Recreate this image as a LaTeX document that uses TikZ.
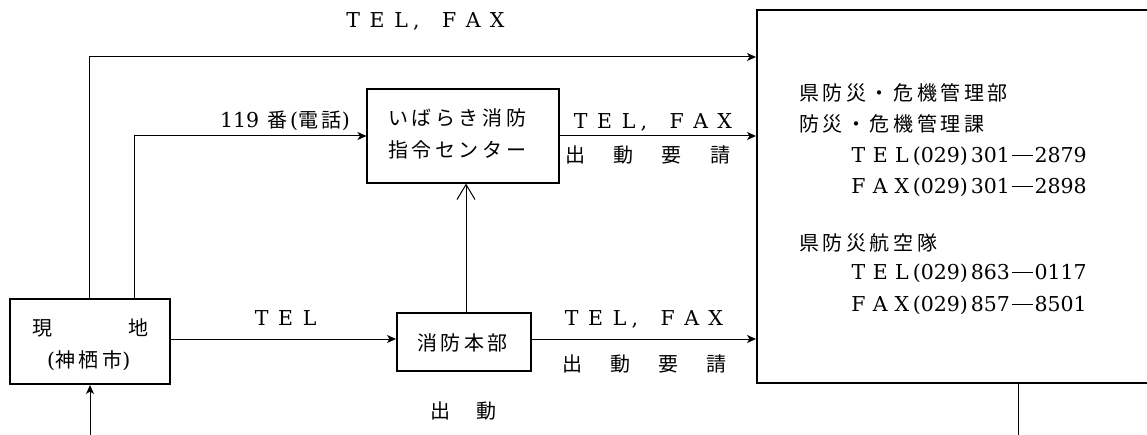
\documentclass[tikz,border=0pt]{standalone}
\usepackage{fontspec}
\newfontfamily\jpf[LetterSpace=18]{Noto Sans CJK JP}
\newfontfamily\latf{DejaVu Serif}
\usetikzlibrary{arrows.meta}
\newcommand\J[1]{{\fontsize{20pt}{24pt}\jpf #1}}
\newcommand\fwc[2][24pt]{\makebox[#1]{#2}}
\newcommand\fwl[2][24pt]{\makebox[#1][l]{#2}}
\newcommand\telfax{\fwc{T}\fwc{E}\fwc{L}\fwl{,}\fwc{F}\fwc{A}\fwc{X}}
\newcommand\dashrule{\hspace{2pt}\rule[6.8pt]{21pt}{1.1pt}\hspace{1.5pt}}
\newcommand\tcell[1]{\fwc[21.7pt]{#1}}
\begin{document}
\begin{tikzpicture}[x=1pt,y=-1pt,
  txt/.style={inner sep=0pt, anchor=base west, font=\fontsize{20.5pt}{24pt}\latf},
  arr/.style={line width=1pt, -{Stealth[length=9pt,width=8pt,inset=2.5pt]}},
  openarr/.style={line width=1pt, -{Straight Barb[length=15pt,width=18pt]}},
  ln/.style={line width=1pt},
  thickbox/.style={draw, line width=2pt, inner sep=0pt},
  thinbox/.style={draw, line width=1.1pt, inner sep=0pt}]
\useasboundingbox (0,0) rectangle (1147,435);
\clip (0,0) rectangle (1147,435);
% boxes
\node[thickbox, minimum width=160pt, minimum height=85pt] (genchi) at (90,341.5) {};
\node[thickbox, minimum width=134pt, minimum height=58pt] (honbu) at (464,342) {};
\node[thinbox, minimum width=192pt, minimum height=94pt] (center) at (463,136) {};
\node[thickbox, minimum width=410pt, minimum height=373pt] (ken) at (962,196.5) {};
% texts
\node[txt] (t1) at (341,27.6) {\telfax};
\node[txt, anchor=base east] (t119) at (350,127.6) {119\hspace{8pt}\J{番}\hspace{3pt}(\J{電話})};
\node[txt] (c1) at (388,125.6) {\J{いばらき消防}};
\node[txt] (c2) at (388,157.6) {\J{指令センター}};
\node[txt] (t2) at (568.5,128.6) {\telfax};
\node[txt] (r2) at (565,162.6) {\J{\fwl[48.3pt]{出}\fwl[48.3pt]{動}\fwl[48.3pt]{要}請}};
\node[txt] (t3) at (559.5,325.6) {\telfax};
\node[txt] (r3) at (562,371.6) {\J{\fwl[48pt]{出}\fwl[48pt]{動}\fwl[48pt]{要}請}};
\node[txt] (t4) at (249.5,325) {\fwc{T}\fwc{E}\fwc{L}};
\node[txt] (s1) at (430,418.6) {\J{\fwl[46pt]{出}動}};
\node[txt] (g1) at (32,335.6) {\J{\fwl[96pt]{現}地}};
\node[txt] (g2) at (47,367.6) {(\J{神栖市})};
\node[txt] (h1) at (417,350.6) {\J{消防本部}};
\node[txt] (k1) at (799,100.6) {\J{県防災・危機管理部}};
\node[txt] (k2) at (799,131.6) {\J{防災・危機管理課}};
\node[txt] (k3) at (847.5,162.6) {\tcell{T}\tcell{E}\tcell{L}(029)\hspace{3pt}301\dashrule 2879};
\node[txt] (k4) at (847.5,193.6) {\tcell{F}\tcell{A}\tcell{X}(029)\hspace{3pt}301\dashrule 2898};
\node[txt] (k5) at (799,250.6) {\J{県防災航空隊}};
\node[txt] (k6) at (847.5,279.6) {\tcell{T}\tcell{E}\tcell{L}(029)\hspace{3pt}863\dashrule 0117};
\node[txt] (k7) at (847.5,311.6) {\tcell{F}\tcell{A}\tcell{X}(029)\hspace{3pt}857\dashrule 8501};
% connectors
\draw[arr] (genchi.east |- 0,339) -- (honbu.west |- 0,339);
\draw[arr] (honbu.east |- 0,339) -- (ken.west |- 0,339);
\draw[arr] (center.east) -- (ken.west |- center.east);
\draw[openarr] (honbu.north -| 466,0) -- (center.south -| 466,0);
\draw[arr] (genchi.north -| 134,0) |- (center.west);
\draw[arr] (genchi.north -| 89,0) |- (ken.west |- 0,57);
\coordinate (gb) at (90,435);
\draw[arr] (gb) -- (genchi.south);
\coordinate (kb) at (1018,435);
\draw[ln] (ken.south -| 1018,0) -- (kb);
\end{tikzpicture}
\end{document}
